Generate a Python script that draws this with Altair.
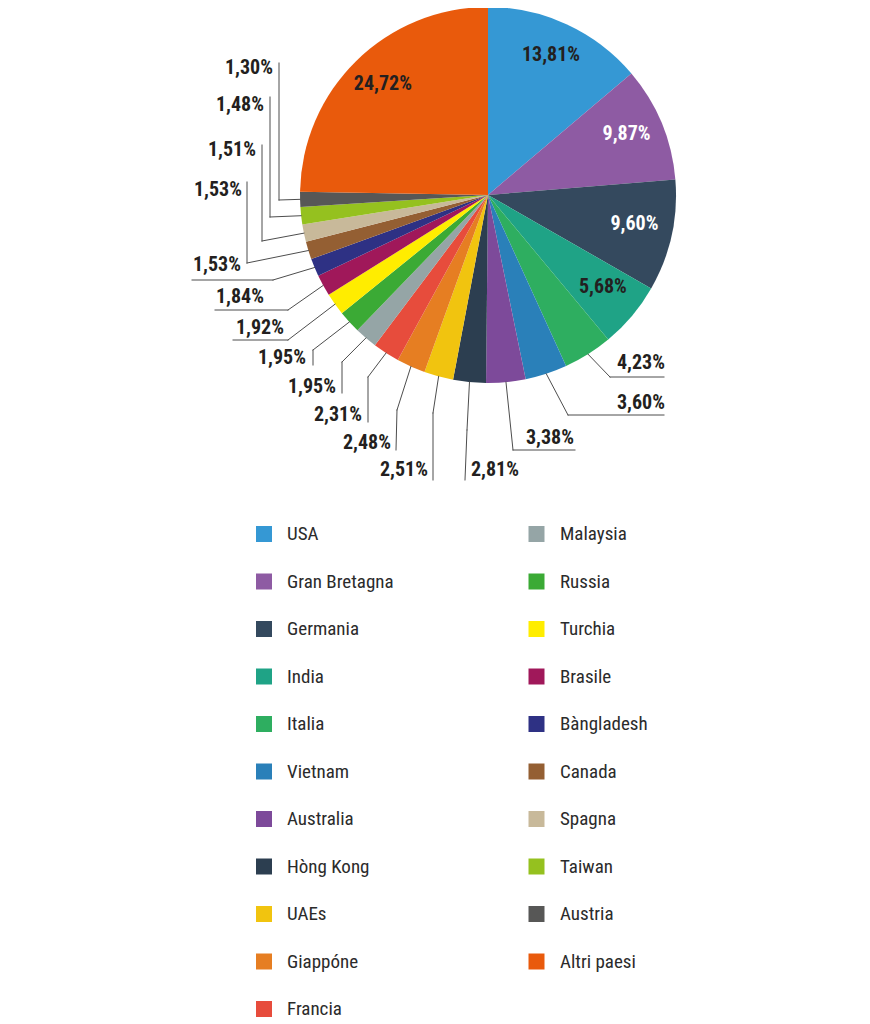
import altair as alt
import pandas as pd

# ---------------- data ----------------
countries = ["USA", "Gran Bretagna", "Germania", "India", "Italia", "Vietnam",
             "Australia", "Hòng Kong", "UAEs", "Giappóne", "Francia",
             "Malaysia", "Russia", "Turchia", "Brasile", "Bàngladesh",
             "Canada", "Spagna", "Taiwan", "Austria", "Altri paesi"]
shares = [13.81, 9.87, 9.60, 5.68, 4.23, 3.60, 3.38, 2.81, 2.51, 2.48, 2.31,
          1.95, 1.95, 1.92, 1.84, 1.53, 1.53, 1.51, 1.48, 1.30, 24.72]
colors = ["#3598D4", "#8E5BA3", "#34495E", "#1FA386", "#2EAE60", "#2A80B9",
          "#7D4A9A", "#2C3E50", "#F1C40F", "#E67E22", "#E74C3C",
          "#95A5A6", "#3BAA35", "#FFED00", "#A0185A", "#2E3184",
          "#945F33", "#C8B99A", "#95C11F", "#575756", "#E95A0C"]

# ---------------- annotation layout (page pixels) ----------------
out_countries = ["Italia", "Vietnam", "Australia", "Hòng Kong", "UAEs", "Giappóne",
                 "Francia", "Malaysia", "Russia", "Turchia", "Brasile", "Bàngladesh",
                 "Canada", "Spagna", "Taiwan", "Austria"]
elbow_x = [610, 568, 513, 467, 433, 397, 368, 342, 313, 288, 288, 273, 247, 262, 270, 279]
elbow_y = [377, 415, 450, 430, 413, 410, 377, 362, 350, 340, 310, 280, 263, 241, 217, 200]
end_x = [664, 664, 575, 465, 433, 396, 368, 342, 313, 233, 215, 192, 247, 262, 270, 279]
end_y = [377, 415, 450, 480, 480, 450, 422, 393, 365, 340, 310, 280, 182, 145, 97, 63]
lab_x = [665, 665, 574, 471, 428, 391, 362, 336, 306, 284, 264, 241, 242, 256, 264, 273]
lab_y = [363, 403, 438, 470, 470, 443, 415, 387, 358, 328, 297, 265, 190, 150, 105, 68]
lab_align = ["right", "right", "right", "left", "right", "right", "right", "right",
             "right", "right", "right", "right", "right", "right", "right", "right"]

M = 8  # page margin
CX, CY, R = 488 - M, 195 - M, 188
RL = 150  # inside label radius
FONT = "'Noto Sans Condensed', 'Roboto Condensed', 'DejaVu Sans Condensed', sans-serif"
TXT = "#231F20"
LINE = "#4D4D4D"
LAB_SIZE = 20
LEG_SIZE = 19

df = pd.DataFrame({"country": countries, "value": shares,
                   "idx": list(range(len(countries)))})
layout = pd.DataFrame({
    "country": out_countries,
    "ex": [v - M for v in elbow_x], "ey": [v - M for v in elbow_y],
    "tx2": [v - M for v in end_x], "ty2": [v - M for v in end_y],
    "lx": [v - M for v in lab_x], "ly": [v - M for v in lab_y],
    "al": lab_align,
})

color_scale = alt.Scale(domain=countries, range=colors)

base = (
    alt.Chart(df)
    .transform_window(cum="sum(value)", sort=[alt.SortField("idx", order="ascending")],
                      frame=[None, 0])
    .transform_joinaggregate(total="sum(value)")
    .transform_calculate(
        mid="2*PI*(datum.cum - datum.value/2)/datum.total",
        label="replace(format(datum.value, '.2f'), '.', ',') + '%'",
    )
)

pie = alt.Chart(df).mark_arc(outerRadius=R).encode(
    theta=alt.Theta("value:Q", stack=True),
    order=alt.Order("idx:Q"),
    color=alt.Color("country:N", scale=color_scale, legend=None),
    x=alt.value(CX), y=alt.value(CY),
)

inside = (
    base.transform_filter("datum.value > 5")
    .transform_calculate(px=f"{CX} + {RL}*sin(datum.mid)",
                         py=f"{CY} - 4 - {RL}*cos(datum.mid)")
    .mark_text(font=FONT, fontSize=LAB_SIZE, fontWeight="bold", baseline="middle")
    .encode(
        x=alt.X("px:Q", scale=None, axis=None),
        y=alt.Y("py:Q", scale=None, axis=None),
        text="label:N",
        color=alt.condition(
            "datum.country == 'Gran Bretagna' || datum.country == 'Germania'",
            alt.value("white"), alt.value(TXT)),
    )
)

seg = (
    base.transform_lookup(
        lookup="country",
        from_=alt.LookupData(layout, "country", ["ex", "ey", "tx2", "ty2", "lx", "ly", "al"]),
    )
    .transform_filter("isValid(datum.ex)")
    .transform_calculate(sx=f"{CX} + {R}*sin(datum.mid)",
                         sy=f"{CY} - {R}*cos(datum.mid)")
)

seg1 = seg.mark_rule(color=LINE, strokeWidth=1, strokeCap="square").encode(
    x=alt.X("sx:Q", scale=None, axis=None), y=alt.Y("sy:Q", scale=None, axis=None),
    x2="ex:Q", y2="ey:Q")
seg2 = seg.mark_rule(color=LINE, strokeWidth=1, strokeCap="square").encode(
    x=alt.X("ex:Q", scale=None, axis=None), y=alt.Y("ey:Q", scale=None, axis=None),
    x2="tx2:Q", y2="ty2:Q")


def out_text(align):
    return seg.transform_filter(f"datum.al == '{align}'").mark_text(
        font=FONT, fontSize=LAB_SIZE, fontWeight="bold", baseline="middle",
        align=align, color=TXT).encode(
        x=alt.X("lx:Q", scale=None, axis=None), y=alt.Y("ly:Q", scale=None, axis=None),
        text="label:N")


out_right = out_text("right")
out_left = out_text("left")

leg = alt.Chart(df).transform_calculate(
    col="datum.idx >= 11 ? 1 : 0",
    row="datum.idx >= 11 ? datum.idx - 11 : datum.idx",
).transform_calculate(
    qx=f"{264 - M} + datum.col*272.5",
    qy=f"{534 - M} + datum.row*47.5",
    tx=f"{287 - M} + datum.col*273",
)
squares = leg.mark_square(size=256, filled=True, opacity=1, strokeWidth=0).encode(
    x=alt.X("qx:Q", scale=None, axis=None), y=alt.Y("qy:Q", scale=None, axis=None),
    color=alt.Color("country:N", scale=color_scale, legend=None))
legtext = leg.mark_text(font=FONT, fontSize=LEG_SIZE, align="left", baseline="middle",
                        color="#2B2B2B").encode(
    x=alt.X("tx:Q", scale=None, axis=None), y=alt.Y("qy:Q", scale=None, axis=None),
    text="country:N")

chart = alt.layer(pie, seg1, seg2, inside, out_right, out_left, squares, legtext).properties(
    width=854, height=1016, padding=0,
    autosize=alt.AutoSizeParams(type="none"),
    background="white",
).configure_view(stroke=None)

chart.save("out.html", embed_options={"renderer": "svg", "actions": False})
